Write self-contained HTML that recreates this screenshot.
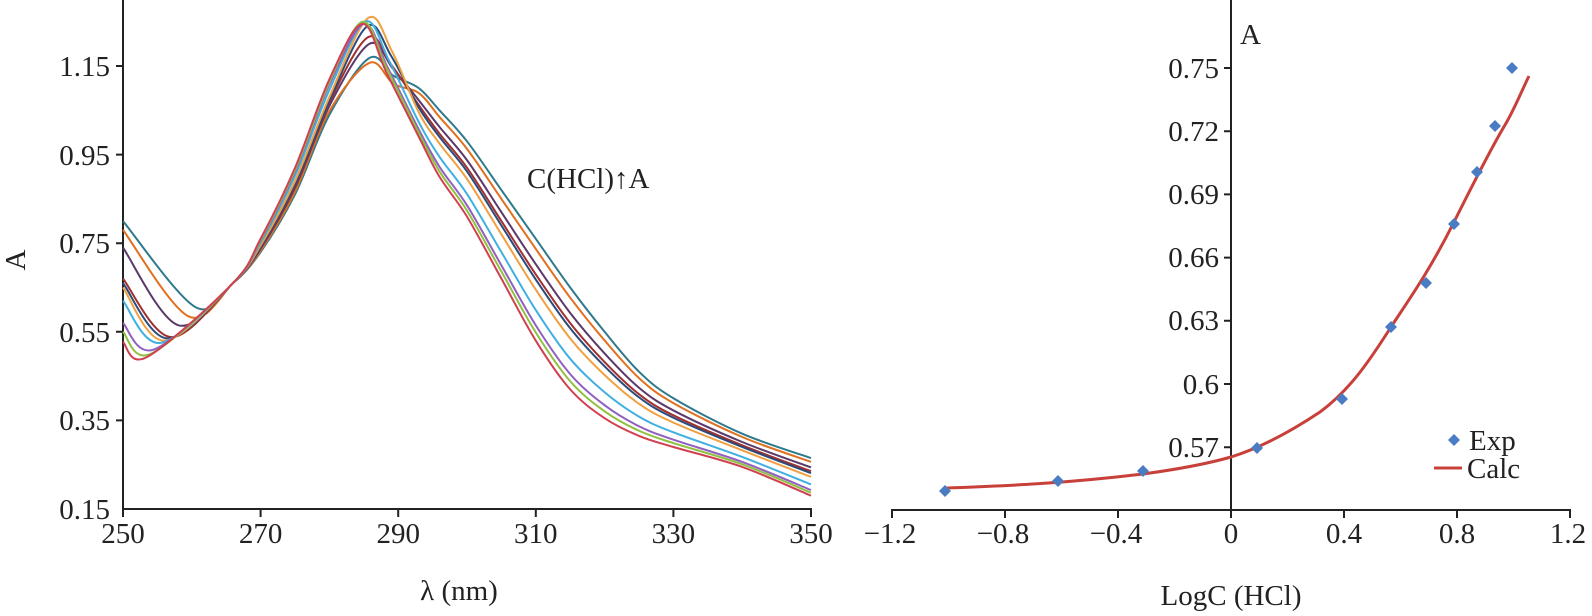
<!DOCTYPE html>
<html><head><meta charset="utf-8"><style>
html,body{margin:0;padding:0;background:#fff}
svg text{font-family:"Liberation Serif",serif;fill:#222}
</style></head><body>
<svg id="s" width="1592" height="611" xmlns="http://www.w3.org/2000/svg">
<g stroke="#222" stroke-width="2" fill="none">
<line x1="123" y1="0" x2="123" y2="510"/>
<line x1="122" y1="509" x2="812" y2="509"/>
<line x1="1231" y1="0" x2="1231" y2="510"/>
<line x1="891" y1="510" x2="1571" y2="510"/>
<path d="M116 66H123M116 154.6H123M116 243.2H123M116 331.8H123M116 420.4H123"/>
<path d="M123 509V517M260.6 509V517M398.2 509V517M535.8 509V517M673.4 509V517M811 509V517"/>
<path d="M1224 68H1231M1224 131.2H1231M1224 194.4H1231M1224 257.6H1231M1224 320.8H1231M1224 384H1231M1224 447.2H1231"/>
<path d="M892 510V518M1005 510V518M1118 510V518M1231 510V518M1344 510V518M1457 510V518M1570 510V518"/>
</g>
<g font-size="29" text-anchor="end">
<text x="110" y="76">1.15</text><text x="110" y="165">0.95</text><text x="110" y="253">0.75</text>
<text x="110" y="342">0.55</text><text x="110" y="430">0.35</text><text x="110" y="519">0.15</text>
<text x="1219" y="78">0.75</text><text x="1219" y="141">0.72</text><text x="1219" y="204">0.69</text>
<text x="1219" y="267">0.66</text><text x="1219" y="330">0.63</text><text x="1219" y="394">0.6</text>
<text x="1219" y="457">0.57</text>
</g>
<g font-size="29" text-anchor="middle">
<text x="123" y="543">250</text><text x="260.6" y="543">270</text><text x="398.2" y="543">290</text>
<text x="535.8" y="543">310</text><text x="673.4" y="543">330</text><text x="811" y="543">350</text>
<text x="890" y="543">−1.2</text><text x="1003" y="543">−0.8</text><text x="1116" y="543">−0.4</text>
<text x="1231" y="543">0</text><text x="1344" y="543">0.4</text><text x="1457" y="543">0.8</text><text x="1568" y="543">1.2</text>
<text x="459" y="600">λ (nm)</text><text x="1231" y="605">LogC (HCl)</text>
<text transform="translate(25,260) rotate(-90)">A</text>
</g>
<text x="1240" y="44" font-size="29">A</text>
<text x="527" y="188" font-size="29">C(HCl)↑A</text>
<g id="curves" fill="none" stroke-width="2"></g>
<path d="M947 488 C1000 486 1060 484 1143 474 C1180 469 1210 463 1231 457 C1260 448 1290 432 1320 412 C1350 390 1370 360 1391 327 C1410 298 1430 270 1454 222 C1470 190 1490 150 1505 125 C1515 108 1522 90 1529 76" stroke="#c8403a" stroke-width="3" fill="none"/>
<g fill="#4a7cc4" id="pts"></g>
<path d="M1454 434 L1460 440 L1454 446 L1448 440Z" fill="#4a7cc4"/>
<text x="1469" y="450" font-size="29">Exp</text>
<line x1="1434" y1="468" x2="1462" y2="468" stroke="#c8403a" stroke-width="3"/>
<text x="1467" y="478" font-size="29">Calc</text>
</svg>
<script>
var NS="http://www.w3.org/2000/svg";
function px(l){return 123+(l-250)*6.88}
function py(a){return 509-(a-0.15)*443}
var tealL=[266,270,275,280],teal1=[.66,.73,.86,1.04],red1=[.66,.76,.92,1.12];
var tail=[293,296,300,305,310,315,320,325,330,340,350];
var tealT=[1.10,1.05,.98,.87,.76,.65,.55,.46,.40,.32,.265];
var redT=[.99,.90,.81,.67,.53,.42,.355,.315,.29,.245,.18];
var C=[
["#2e7a8c",0,.80,260.5,.606,285.8,1.168],
["#e07020",.1,.78,259.5,.585,285.8,1.157],
["#5a3a6a",.25,.74,258,.565,285.8,1.20],
["#a03030",.35,.67,257,.538,285.6,1.215],
["#2a4a7a",.4,.66,256.5,.535,285.5,1.24],
["#f0a040",.5,.65,256,.53,285.6,1.258],
["#40b0e0",.7,.62,255.5,.525,285.2,1.25],
["#9060c0",.85,.57,254.5,.51,285,1.245],
["#90c040",.92,.55,254,.50,284.8,1.25],
["#d04050",1,.527,253.5,.493,284.8,1.245]];
function cr(p){var d="M"+p[0][0]+" "+p[0][1];for(var i=0;i<p.length-1;i++){var p0=p[i-1]||p[i],p1=p[i],p2=p[i+1],p3=p[i+2]||p2;
d+=" C"+(p1[0]+(p2[0]-p0[0])/6)+" "+(p1[1]+(p2[1]-p0[1])/6)+" "+(p2[0]-(p3[0]-p1[0])/6)+" "+(p2[1]-(p3[1]-p1[1])/6)+" "+p2[0]+" "+p2[1];}return d}
var g=document.getElementById("curves");
C.forEach(function(c){var t=c[1],pts=[];
pts.push([px(250),py(c[2])]);
pts.push([px(c[3]),py(c[4])]);
for(var i=0;i<4;i++)pts.push([px(tealL[i]),py(teal1[i]*(1-t)+red1[i]*t)]);
pts.push([px(c[5]),py(c[6])]);
pts.push([px(c[5]+3.5),py(c[6]-0.04-0.07*t)]);
for(i=0;i<tail.length;i++){var v=tealT[i]*(1-t)+redT[i]*t;pts.push([px(tail[i]),py(v)]);}
var p=document.createElementNS(NS,"path");p.setAttribute("d",cr(pts));p.setAttribute("stroke",c[0]);g.appendChild(p);});
var P=[[945,491],[1058,481],[1143,471],[1257,448],[1342,399],[1391,327],[1426,283],[1454,224],[1477,172],[1495,126],[1512,68]];
var pg=document.getElementById("pts");
P.forEach(function(q){var e=document.createElementNS(NS,"path");e.setAttribute("d","M"+q[0]+" "+(q[1]-6)+"l6 6l-6 6l-6 -6z");pg.appendChild(e);});
</script>
</body></html>
